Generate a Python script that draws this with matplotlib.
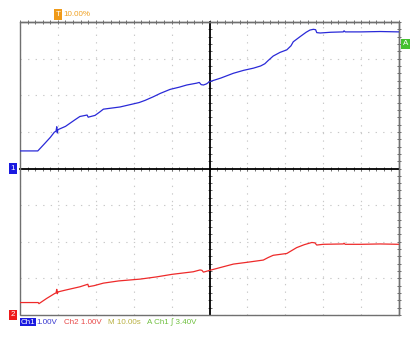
import matplotlib
matplotlib.use("Agg")
import matplotlib.pyplot as plt
from matplotlib.patches import Rectangle

# ---- data (time in s, voltage in V) ----
ch1_t = [0, 4.7, 6.5, 8.0, 9.05, 9.5, 9.7, 9.85, 10.0, 12.0, 14.5, 15.8, 17.7, 18.0, 18.3, 19.8, 21.0, 22.0,
         26.4, 31.4, 33.0, 35.2, 37.0, 39.6, 42.0, 44.0, 46.6, 47.3, 47.8, 48.4, 49.2, 50.0, 53.0, 56.3,
         59.0, 61.6, 63.5, 64.6, 65.5, 66.8, 68.6, 70.4, 71.5, 72.1, 73.9, 75.5, 76.5, 77.4, 78.0, 78.3,
         79.2, 82.0, 85.3, 85.5, 85.8, 90.0, 95.0, 100.0]
ch1_v = [0.48, 0.48, 0.68, 0.85, 0.99, 1.02, 1.14, 0.97, 1.06, 1.15, 1.33, 1.42, 1.46, 1.40, 1.41, 1.45, 1.54, 1.62,
         1.68, 1.80, 1.86, 1.96, 2.05, 2.16, 2.22, 2.28, 2.33, 2.35, 2.29, 2.28, 2.31, 2.37, 2.47, 2.60,
         2.68, 2.74, 2.80, 2.86, 2.95, 3.07, 3.17, 3.24, 3.35, 3.46, 3.60, 3.72, 3.78, 3.80, 3.79, 3.71,
         3.70, 3.72, 3.73, 3.76, 3.73, 3.73, 3.74, 3.73]
ch2_t = [0, 4.8, 5.0, 7.0, 9.2, 9.5, 9.7, 9.85, 10.0, 12.0, 15.8, 17.9, 18.1, 18.4, 19.5, 22.0, 26.0,
         31.7, 36.0, 40.1, 45.7, 47.5, 48.0, 48.4, 50.1, 53.0, 56.3, 60.0, 64.2, 65.5, 66.8, 70.4, 73.0, 75.0,
         77.0, 77.8, 78.3, 80.0, 85.3, 85.5, 85.8, 90.0, 95.0, 100.0]
ch2_v = [0.34, 0.34, 0.31, 0.45, 0.59, 0.60, 0.70, 0.58, 0.63, 0.68, 0.77, 0.84, 0.77, 0.78, 0.80, 0.87, 0.93,
         0.98, 1.04, 1.11, 1.18, 1.23, 1.22, 1.17, 1.22, 1.30, 1.39, 1.44, 1.50, 1.57, 1.63, 1.68, 1.84, 1.92,
         1.98, 1.97, 1.91, 1.93, 1.94, 1.96, 1.93, 1.93, 1.94, 1.93]

ch1_offset_div = 0.0    # ground marker 1 at centre
ch2_offset_div = -4.0   # ground marker 2 at bottom
volts_per_div = 1.0
time_per_div = 10.0
trigger_pos = 10.0      # s (10.00%)
trigger_level = 3.40    # V

W, H = 417, 342
fig = plt.figure(figsize=(W / 100, H / 100), dpi=100)
fig.patch.set_facecolor("white")
L, R, T, B = 20, 399, 22, 315
ax = fig.add_axes([L / W, (H - B) / H, (R - L) / W, (B - T) / H])
ax.set_xlim(0, 10 * time_per_div)
ax.set_ylim(-4, 4)
ax.set_facecolor("white")

# grid
ax.set_xticks([i * time_per_div for i in range(11)])
ax.set_yticks(range(-4, 5))
ax.set_xticks([i * time_per_div / 5 for i in range(51)], minor=True)
ax.set_yticks([i / 5 - 4 for i in range(41)], minor=True)
ax.grid(True, which="major", color="#c8c8c8", linestyle=(0, (1.2, 5.6)), linewidth=0.8)
ax.set_axisbelow(True)

# centre lines as spines
ax.spines["left"].set_position(("data", 5 * time_per_div))
ax.spines["bottom"].set_position(("data", 0))
for s in ("left", "bottom"):
    ax.spines[s].set_color("black")
    ax.spines[s].set_linewidth(1.3)
for s in ("top", "right"):
    ax.spines[s].set_color("#707070")
    ax.spines[s].set_linewidth(1.0)
ax.tick_params(which="both", top=True, right=True, direction="inout", length=3.0,
               width=0.6, color="#555555", labelbottom=False, labelleft=False)
# outer frame for left/bottom
ax.add_patch(Rectangle((0, 0), 1, 1, transform=ax.transAxes, fill=False,
                       edgecolor="#707070", linewidth=1.0, clip_on=False, zorder=5))

# traces
ax.plot(ch1_t, [v / volts_per_div + ch1_offset_div for v in ch1_v], color="#2a2ad8", linewidth=0.9, zorder=6)
ax.plot(ch2_t, [v / volts_per_div + ch2_offset_div for v in ch2_v], color="#ee2a2a", linewidth=0.9, zorder=6)

# markers
fs = 5.8
fam = ["Liberation Sans", "DejaVu Sans"]
mk = dict(boxstyle="square,pad=0.22", ec="none")
ax.annotate("1", xy=(0, ch1_offset_div), xycoords=("axes fraction", "data"),
            xytext=(-5.2, 0), textcoords="offset points", ha="center", va="center",
            color="white", fontsize=fs, family=fam,
            bbox=dict(fc="#1a1ae0", **mk), annotation_clip=False)
ax.annotate("2", xy=(0, ch2_offset_div), xycoords=("axes fraction", "data"),
            xytext=(-5.2, 0), textcoords="offset points", ha="center", va="center",
            color="white", fontsize=fs, family=fam,
            bbox=dict(fc="#ee1a1a", **mk), annotation_clip=False)
ax.annotate("A", xy=(1, trigger_level / volts_per_div + ch1_offset_div), xycoords=("axes fraction", "data"),
            xytext=(5.0, 0), textcoords="offset points", ha="center", va="center",
            color="white", fontsize=fs, family=fam,
            bbox=dict(fc="#44c030", **mk), annotation_clip=False)
ax.annotate("T", xy=(trigger_pos, 1), xycoords=("data", "axes fraction"),
            xytext=(0, 5.5), textcoords="offset points", ha="center", va="center",
            color="white", fontsize=fs, family=fam,
            bbox=dict(fc="#f09a18", **mk), annotation_clip=False)
fig.text(63 / W, 1 - 15 / H, "10.00%", color="#f0a020", fontsize=fs, family=fam, va="center", ha="left")

# bottom readout
y_txt = 1 - 322 / H
fig.text(20.5 / W, y_txt, "Ch1", color="white", fontsize=fs, family=fam, va="center", ha="left",
         bbox=dict(boxstyle="square,pad=0.08", fc="#1a1ae0", ec="none"))
fig.text(36 / W, y_txt, "1.00V", color="#3838d0", fontsize=fs, family=fam, va="center", ha="left")
fig.text(63.5 / W, y_txt, "Ch2 1.00V", color="#e84848", fontsize=fs, family=fam, va="center", ha="left")
fig.text(108 / W, y_txt, "M 10.00s", color="#b8b040", fontsize=fs, family=fam, va="center", ha="left")
fig.text(147 / W, y_txt, "A Ch1 \u222b 3.40V", color="#70c040", fontsize=fs, family=fam, va="center", ha="left")

fig.savefig("out.png", dpi=100, facecolor="white")
